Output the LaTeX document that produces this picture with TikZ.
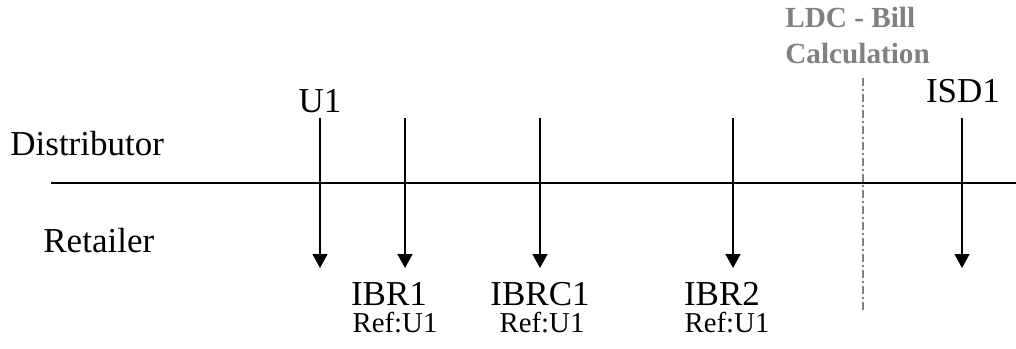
\documentclass[tikz,border=0pt]{standalone}
\usepackage{fontspec}
\setmainfont{Liberation Serif}
\usetikzlibrary{arrows.meta}

\tikzset{
  msg/.style={-{Triangle[length=7pt, width=7.5pt]}, line width=0.75pt},
  lbl/.style={inner sep=0pt, anchor=base, font=\fontsize{17.5}{20}\selectfont},
  reflbl/.style={inner sep=0pt, anchor=base, font=\fontsize{14.4}{17}\selectfont},
  role/.style={inner sep=0pt, anchor=base west, font=\fontsize{17.5}{20}\selectfont},
  phase/.style={inner sep=0pt, anchor=base west, text=black!50,
    font=\bfseries\fontsize{14.6}{17}\selectfont}
}

\begin{document}
\begin{tikzpicture}[x=0.5pt, y=-0.5pt]
\useasboundingbox (0,0) rectangle (1016,348);

% timeline
\coordinate (lineL) at (51,183);
\coordinate (lineR) at (1016,183);
\draw[line width=0.75pt] (lineL) -- (lineR);

% roles
\node[role] (distributor) at (10,155) {Distributor};
\node[role] (retailer) at (43,252) {Retailer};

% messages
\foreach \name/\x in {u1/320, ibr1/405, ibrc1/540, ibr2/733, isd1/962} {
  \coordinate (\name top) at (\x,118);
  \coordinate (\name tip) at (\x,268);
  \draw[msg] (\name top) -- (\name tip);
}

\node[lbl] (u1) at (320,112) {U1};
\node[lbl] (isd1) at (963,102) {ISD1};
\node[lbl] (ibr1) at (389,305) {IBR1};
\node[lbl] (ibrc1) at (540,305) {IBRC1};
\node[lbl] (ibr2) at (722,305) {IBR2};
\node[reflbl] (ref1) at (395,332) {Ref:U1};
\node[reflbl] (ref2) at (542,332) {Ref:U1};
\node[reflbl] (ref3) at (727,332) {Ref:U1};

% bill calculation boundary
\node[phase] (ldc) at (785,27) {LDC - Bill};
\node[phase] (calc) at (785,63) {Calculation};
\coordinate (sepTop) at (863,78);
\coordinate (sepBot) at (863,312);
\draw[black!50, line width=1.3pt, dash pattern=on 4pt off 1.5pt on 1pt off 1.5pt] (sepTop) -- (sepBot);
\end{tikzpicture}
\end{document}
